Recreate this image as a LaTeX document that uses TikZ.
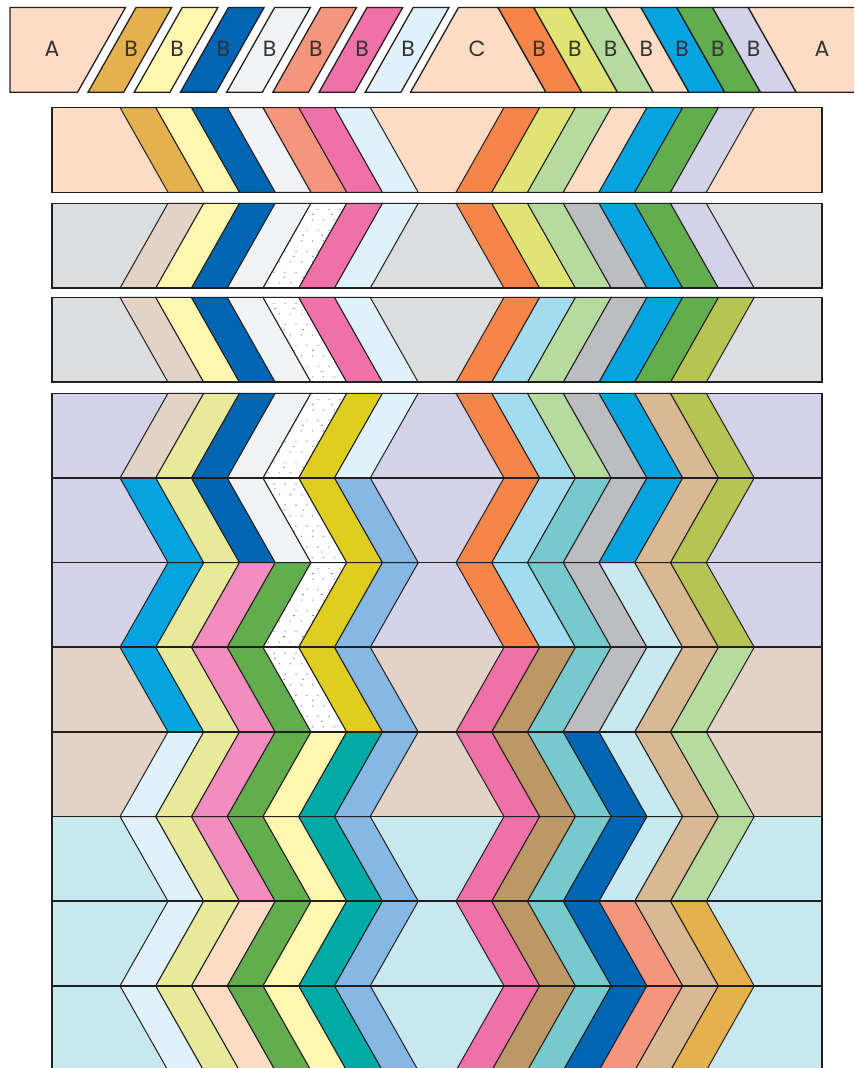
\documentclass[tikz,border=0pt]{standalone}
\usepackage{fontspec}
\newfontfamily\lab{Poppins}
\definecolor{lc}{HTML}{231F20}
\definecolor{txt}{HTML}{333333}
\definecolor{cPeach}{HTML}{FCDCC5}
\definecolor{cGold}{HTML}{E5B04E}
\definecolor{cLtYellow}{HTML}{FFF6B0}
\definecolor{cDkBlue}{HTML}{0066B3}
\definecolor{cLtGrey}{HTML}{F1F2F4}
\definecolor{cSalmon}{HTML}{F4967D}
\definecolor{cPink}{HTML}{F070A8}
\definecolor{cPaleBlue}{HTML}{DFF2FA}
\definecolor{cOrange}{HTML}{F58549}
\definecolor{cYGreen}{HTML}{E0E474}
\definecolor{cYGreenPale}{HTML}{E6EA9A}
\definecolor{cLtGreen}{HTML}{B5DB9F}
\definecolor{cBlue}{HTML}{05A3DF}
\definecolor{cGreen}{HTML}{62AD4E}
\definecolor{cLavender}{HTML}{D4D2E8}
\definecolor{cBeige}{HTML}{E3D3C6}
\definecolor{cGreyBg}{HTML}{DCDDDF}
\definecolor{cGrey}{HTML}{BCBDC0}
\definecolor{cLtBlue}{HTML}{A3DCEE}
\definecolor{cOlive}{HTML}{B5C452}
\definecolor{cYellow}{HTML}{DDCE1F}
\definecolor{cTan}{HTML}{D8B994}
\definecolor{cMedBlue}{HTML}{85B8E2}
\definecolor{cTeal}{HTML}{76CACD}
\definecolor{cPaleCyan}{HTML}{C8E9F0}
\definecolor{cLtPink}{HTML}{F28DBF}
\definecolor{cBrown}{HTML}{BB9866}
\definecolor{cDkTeal}{HTML}{00ABA7}
\definecolor{cCyanBg}{HTML}{C8E8EF}
\definecolor{cDotGrey}{HTML}{A0A0A0}
\definecolor{cDotDark}{HTML}{303030}
\tikzset{
  ln/.style={draw=lc, line width=1.0pt, line join=miter},
  piece/.style={draw=lc, line width=1.3pt, line join=miter},
  border/.style={draw=lc, line width=1.6pt},
  lbl/.style={text=txt, font=\lab\fontsize{22}{22}\selectfont, inner sep=0pt},
  dotg/.style={fill=cDotGrey},
  dotk/.style={fill=cDotDark},
}
\newcommand\qband[7]{%
  \path[fill=#3] (52,#1) rectangle (822,#2);
  \foreach \c [count=\i from 0] in {#6} {%
    \ifx\c\dotkey
      \begin{scope}
        \clip ({120+#4+\i*35.75},#1) -- ({155.75+#4+\i*35.75},#1) -- ({155.75+48-#4+\i*35.75},#2) -- ({120+48-#4+\i*35.75},#2) -- cycle;
        \fill[white] (240,#1) rectangle (370,#2);
        \foreach \yy in {0,...,7} {
          \foreach \xx in {0,...,10} {
            \fill[dotg] ({252+\xx*11+mod(\yy,2)*5.5},{#1+6+\yy*10.5}) circle (0.8pt);
          }
        }
        \foreach \yy in {0,...,3} {
          \foreach \xx in {0,...,5} {
            \fill[dotk] ({256+\xx*19+mod(\yy,2)*9},{#1+11+\yy*21}) circle (0.65pt);
          }
        }
      \end{scope}
      \path[ln] ({120+#4+\i*35.75},#1) -- ({155.75+#4+\i*35.75},#1) -- ({155.75+48-#4+\i*35.75},#2) -- ({120+48-#4+\i*35.75},#2) -- cycle;
    \else
      \path[ln,fill=\c] ({120+#4+\i*35.75},#1) -- ({155.75+#4+\i*35.75},#1) -- ({155.75+48-#4+\i*35.75},#2) -- ({120+48-#4+\i*35.75},#2) -- cycle;
    \fi
  }
  \foreach \c [count=\i from 0] in {#7} {%
    \path[ln,fill=\c] ({456+#5+\i*35.75},#1) -- ({491.75+#5+\i*35.75},#1) -- ({491.75+48-#5+\i*35.75},#2) -- ({456+48-#5+\i*35.75},#2) -- cycle;
  }
  \path[border] (52,#1) rectangle (822,#2);
}
\def\dotkey{DOT}
\begin{document}
\begin{tikzpicture}[x=1pt,y=-1pt]
\useasboundingbox (0,0) rectangle (854,1068);
\clip (0,0) rectangle (854,1068);
\fill[white] (0,0) rectangle (854,1068);
% ---- top row of cut pieces
\path[piece,fill=cPeach] (10,7.5) -- (125.5,7.5) -- (77.5,92.3) -- (10,92.3) -- cycle;
\node[lbl] (aL) at (52,49) {A};
\foreach \c [count=\i from 0] in {cGold,cLtYellow,cDkBlue,cLtGrey,cSalmon,cPink,cPaleBlue} {
  \path[piece,fill=\c] ({136+\i*46.2},7.5) -- ({171.7+\i*46.2},7.5) -- ({123.7+\i*46.2},92.3) -- ({88+\i*46.2},92.3) -- cycle;
  \node[lbl] (bL\i) at ({131+\i*46.2},49) {B};
}
\path[piece,fill=cPeach] (458.5,7.5) -- (498,7.5) -- (546,92.3) -- (410.5,92.3) -- cycle;
\node[lbl] (cC) at (477,49) {C};
\foreach \c [count=\i from 0] in {cOrange,cYGreen,cLtGreen,cPeach,cBlue,cGreen,cLavender} {
  \path[piece,fill=\c] ({498+\i*35.75},7.5) -- ({533.75+\i*35.75},7.5) -- ({581.75+\i*35.75},92.3) -- ({546+\i*35.75},92.3) -- cycle;
  \node[lbl] (bR\i) at ({539+\i*35.75},49) {B};
}
\path[piece,fill=cPeach] (748.25,7.5) -- (870,7.5) -- (870,92.3) -- (796.25,92.3) -- cycle;
\node[lbl] (aR) at (822,49) {A};
% ---- sewn strips
\qband{107.5}{192.3}{cPeach}{0}{48}
  {cGold,cLtYellow,cDkBlue,cLtGrey,cSalmon,cPink,cPaleBlue}
  {cOrange,cYGreen,cLtGreen,cPeach,cBlue,cGreen,cLavender}
\qband{203.3}{288.1}{cGreyBg}{48}{0}
  {cBeige,cLtYellow,cDkBlue,cLtGrey,DOT,cPink,cPaleBlue}
  {cOrange,cYGreen,cLtGreen,cGrey,cBlue,cGreen,cLavender}
\qband{297.4}{382.2}{cGreyBg}{0}{48}
  {cBeige,cLtYellow,cDkBlue,cLtGrey,DOT,cPink,cPaleBlue}
  {cOrange,cLtBlue,cLtGreen,cGrey,cBlue,cGreen,cOlive}
% ---- assembled block
\qband{393.3}{477.95}{cLavender}{48}{0}
  {cBeige,cYGreenPale,cDkBlue,cLtGrey,DOT,cYellow,cPaleBlue}
  {cOrange,cLtBlue,cLtGreen,cGrey,cBlue,cTan,cOlive}
\qband{477.95}{562.6}{cLavender}{0}{48}
  {cBlue,cYGreenPale,cDkBlue,cLtGrey,DOT,cYellow,cMedBlue}
  {cOrange,cLtBlue,cTeal,cGrey,cBlue,cTan,cOlive}
\qband{562.6}{647.25}{cLavender}{48}{0}
  {cBlue,cYGreenPale,cLtPink,cGreen,DOT,cYellow,cMedBlue}
  {cOrange,cLtBlue,cTeal,cGrey,cPaleCyan,cTan,cOlive}
\qband{647.25}{731.9}{cBeige}{0}{48}
  {cBlue,cYGreenPale,cLtPink,cGreen,DOT,cYellow,cMedBlue}
  {cPink,cBrown,cTeal,cGrey,cPaleCyan,cTan,cLtGreen}
\qband{731.9}{816.55}{cBeige}{48}{0}
  {cPaleBlue,cYGreenPale,cLtPink,cGreen,cLtYellow,cDkTeal,cMedBlue}
  {cPink,cBrown,cTeal,cDkBlue,cPaleCyan,cTan,cLtGreen}
\qband{816.55}{901.2}{cCyanBg}{0}{48}
  {cPaleBlue,cYGreenPale,cLtPink,cGreen,cLtYellow,cDkTeal,cMedBlue}
  {cPink,cBrown,cTeal,cDkBlue,cPaleCyan,cTan,cLtGreen}
\qband{901.2}{985.85}{cCyanBg}{48}{0}
  {cPaleBlue,cYGreenPale,cPeach,cGreen,cLtYellow,cDkTeal,cMedBlue}
  {cPink,cBrown,cTeal,cDkBlue,cSalmon,cTan,cGold}
\qband{985.85}{1070.5}{cCyanBg}{0}{48}
  {cPaleBlue,cYGreenPale,cPeach,cGreen,cLtYellow,cDkTeal,cMedBlue}
  {cPink,cBrown,cTeal,cDkBlue,cSalmon,cTan,cGold}
\end{tikzpicture}
\end{document}
